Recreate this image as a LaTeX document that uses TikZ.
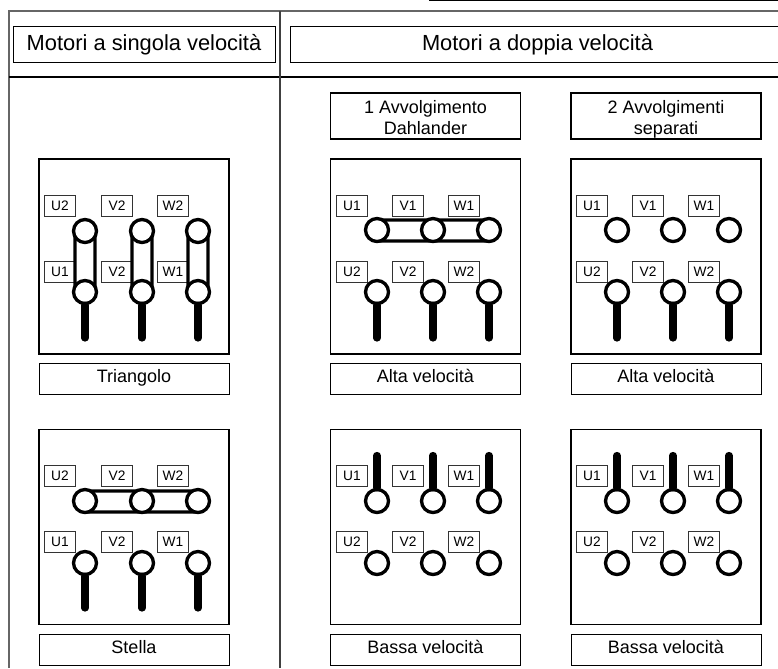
\documentclass[tikz,border=0pt]{standalone}
\usepackage{fontspec}
\setmainfont{Liberation Sans}
\usetikzlibrary{positioning}
\newcommand{\headtop}{\rule{0pt}{15pt}}
\newcommand{\headbot}{\rule[-3pt]{0pt}{1pt}}
\tikzset{
  titlebox/.style={draw, line width=0.6pt, minimum height=27.5pt, inner sep=0pt, text height=12.5pt, text depth=3.3pt, font=\fontsize{16.4}{18}\selectfont},
  capbox/.style={draw, line width=0.6pt, minimum width=142.5pt, minimum height=23.25pt, inner sep=0pt, text height=8pt, text depth=2.7pt, font=\fontsize{13.5}{15}\selectfont},
  headbox/.style={draw, line width=1pt, minimum width=142.5pt, minimum height=34.5pt, inner sep=0pt, align=center, font=\fontsize{13.5}{16.3}\selectfont},
  panel/.style={draw, line width=1.2pt, minimum width=142.5pt, minimum height=146pt, inner sep=0pt},
  term/.style={draw, black!80, line width=0.5pt, minimum width=23.7pt, minimum height=15.5pt, inner sep=0pt, text=black, text height=8.1pt, text depth=2.1pt, font=\fontsize{10.3}{12}\selectfont},
  stud/.style={circle, draw, line width=2.5pt, fill=white, minimum size=17.25pt, inner sep=0pt},
  stem/.style={line width=5.4pt, line cap=round},
  link/.style={line width=2.4pt, rounded corners=7.4pt}
}
\begin{document}
\begin{tikzpicture}[x=0.75pt, y=-0.75pt]
  \useasboundingbox (0,0) rectangle (778,668);
  \coordinate (TL) at (9,11);
  \coordinate (TR) at (778,11);
  \coordinate (BL) at (9,668);
  \coordinate (ML) at (9,77);
  \coordinate (MR) at (778,77);
  \coordinate (CT) at (280,11);
  \coordinate (CB) at (280,668);
  \coordinate (RT) at (429,0.5);
  \coordinate (RE) at (778,0.5);
  \draw[line width=1pt, black!60] (BL) -- (TL) -- (TR);
  \draw[line width=0.9pt] (ML) -- (MR);
  \draw[line width=0.8pt, black!75] (CT) -- (CB);
  \draw[line width=1.2pt] (RT) -- (RE);

  \node[titlebox, minimum width=196.5pt] (single) at (144,44.5) {Motori a singola velocità};
  \node[titlebox, minimum width=371pt] (double) at (537.5,44.5) {Motori a doppia velocità};
  \node[headbox] (dahl) at (425.5,116) {\headtop 1 Avvolgimento\\Dahlander\headbot};
  \node[headbox] (sep) at (666,116) {\headtop 2 Avvolgimenti\\separati\headbot};

  \node[panel] (pa) at (134,256.5) {};
  \node[capbox] at (134,378.5) (capa) {Triangolo};
  \node[panel] (pb) at (134,527) {};
  \node[capbox] at (134,649.5) (capb) {Stella};
  \node[panel] (pc) at (425.5,256.5) {};
  \node[capbox] at (425.5,378.5) (capc) {Alta velocità};
  \node[panel] (pd) at (425.5,527) {};
  \node[capbox] at (425.5,649.5) (capd) {Bassa velocità};
  \node[panel] (pe) at (666,256.5) {};
  \node[capbox] at (666,378.5) (cape) {Alta velocità};
  \node[panel] (pf) at (666,527) {};
  \node[capbox] at (666,649.5) (capf) {Bassa velocità};

  % triangolo
  \foreach \n/\x/\a/\b in {1/85/U2/U1, 2/142/V2/V2, 3/198/W2/W1} {
    \node[term] (ta\n) at (\x-25,206) {\a};
    \node[term] (tb\n) at (\x-25,272) {\b};
    \draw[link] (\x-10,221.5) rectangle (\x+10,301.5);
    \node[stud] (sa\n) at (\x,231) {};
    \node[stud] (sb\n) at (\x,292) {};
    \coordinate (ea\n) at (\x,338);
    \draw[stem] (sb\n) -- (ea\n);
  }
  % stella
  \foreach \n/\x/\a/\b in {1/85/U2/U1, 2/142/V2/V2, 3/198/W2/W1} {
    \node[term] (tc\n) at (\x-25,476) {\a};
    \node[term] (td\n) at (\x-25,542) {\b};
  }
  \draw[link] (75,491) rectangle (208,512);
  \foreach \n/\x in {1/85, 2/142, 3/198} {
    \node[stud] (sc\n) at (\x,501) {};
    \node[stud] (sd\n) at (\x,563) {};
    \coordinate (ed\n) at (\x,608);
    \draw[stem] (sd\n) -- (ed\n);
  }
  % alta velocita
  \foreach \n/\x/\a/\b in {1/377/U1/U2, 2/433/V1/V2, 3/489/W1/W2} {
    \node[term] (te\n) at (\x-25,206) {\a};
    \node[term] (tf\n) at (\x-25,272) {\b};
  }
  \draw[link] (367,220) rectangle (499,241);
  \foreach \n/\x in {1/377, 2/433, 3/489} {
    \node[stud] (se\n) at (\x,230) {};
    \node[stud] (sf\n) at (\x,292) {};
    \coordinate (ef\n) at (\x,338);
    \draw[stem] (sf\n) -- (ef\n);
  }
  \foreach \n/\x/\a/\b in {1/617/U1/U2, 2/673/V1/V2, 3/729/W1/W2} {
    \node[term] (tg\n) at (\x-25,206) {\a};
    \node[term] (th\n) at (\x-25,272) {\b};
    \node[stud] (sg\n) at (\x,230) {};
    \node[stud] (sh\n) at (\x,292) {};
    \coordinate (eh\n) at (\x,338);
    \draw[stem] (sh\n) -- (eh\n);
  }
  % bassa velocita
  \foreach \n/\x/\a/\b in {1/377/U1/U2, 2/433/V1/V2, 3/489/W1/W2, 4/617/U1/U2, 5/673/V1/V2, 6/729/W1/W2} {
    \node[term] (ti\n) at (\x-25,476) {\a};
    \node[term] (tj\n) at (\x-25,542) {\b};
    \node[stud] (si\n) at (\x,501) {};
    \node[stud] (sj\n) at (\x,563) {};
    \coordinate (ei\n) at (\x,455.5);
    \draw[stem] (si\n) -- (ei\n);
  }
\end{tikzpicture}
\end{document}
